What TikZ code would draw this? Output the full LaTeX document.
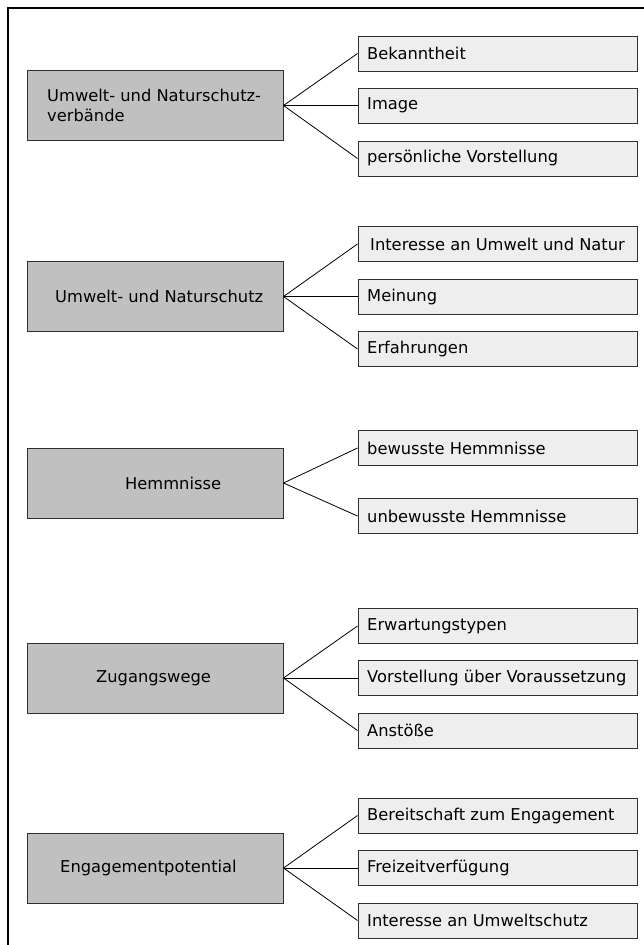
\documentclass[tikz,border=0pt]{standalone}
\usepackage{fontspec}
\setmainfont{DejaVu Sans}
\definecolor{mainfill}{HTML}{C0C0C0}
\definecolor{subfill}{HTML}{EEEEEE}
\definecolor{edge}{HTML}{303030}
\begin{document}
\begin{tikzpicture}[x=1pt,y=-1pt,
  mainbox/.style={draw=edge,line width=1pt,fill=mainfill,minimum width=256pt,minimum height=70pt,inner sep=0pt},
  subbox/.style={draw=edge,line width=1pt,fill=subfill,minimum width=279pt,minimum height=35pt,inner sep=0pt},
  lbl/.style={anchor=west,inner sep=0pt,font=\fontsize{16.3}{20}\selectfont},
  conn/.style={draw=black,line width=0.8pt}]
\useasboundingbox (0,0) rectangle (644,945);
\fill[white] (0,0) rectangle (644,945);
% frame
\draw[black,line width=1.2pt] (8,945) -- (8,8) -- (644,8);

% ---------- group 1
\node[mainbox] (m1) at (155,105.5) {};
\node[lbl,align=left] (t1) at (47,105.5) {Umwelt- und Naturschutz-\\verbände};
\node[subbox] (a1) at (497.5,53.5) {};
\node[subbox] (a2) at (497.5,105.5) {};
\node[subbox] (a3) at (497.5,158.5) {};
\node[lbl] (ta1) at (367,53.5) {Bekanntheit};
\node[lbl] (ta2) at (367,105.5) {Image};
\node[lbl] (ta3) at (367,158.5) {persönliche Vorstellung};
\draw[conn] (m1.east) -- (a1.west);
\draw[conn] (m1.east) -- (a2.west);
\draw[conn] (m1.east) -- (a3.west);

% ---------- group 2
\node[mainbox] (m2) at (155,296.5) {};
\node[lbl] (t2) at (55,296.5) {Umwelt- und Naturschutz};
\node[subbox] (b1) at (497.5,244) {};
\node[subbox] (b2) at (497.5,296.5) {};
\node[subbox] (b3) at (497.5,349) {};
\node[lbl] (tb1) at (370,244) {Interesse an Umwelt und Natur};
\node[lbl] (tb2) at (367,296.5) {Meinung};
\node[lbl] (tb3) at (367,349) {Erfahrungen};
\draw[conn] (m2.east) -- (b1.west);
\draw[conn] (m2.east) -- (b2.west);
\draw[conn] (m2.east) -- (b3.west);

% ---------- group 3
\node[mainbox] (m3) at (155,483) {};
\node[lbl] (t3) at (125,483) {Hemmnisse};
\node[subbox] (c1) at (497.5,448) {};
\node[subbox] (c2) at (497.5,516) {};
\node[lbl] (tc1) at (367,448) {bewusste Hemmnisse};
\node[lbl] (tc2) at (367,516) {unbewusste Hemmnisse};
\draw[conn] (m3.east) -- (c1.west);
\draw[conn] (m3.east) -- (c2.west);

% ---------- group 4
\node[mainbox] (m4) at (155,678) {};
\node[lbl] (t4) at (96,678) {Zugangswege};
\node[subbox] (d1) at (497.5,626) {};
\node[subbox] (d2) at (497.5,678) {};
\node[subbox] (d3) at (497.5,730.5) {};
\node[lbl] (td1) at (367,626) {Erwartungstypen};
\node[lbl] (td2) at (367,678) {Vorstellung über Voraussetzung};
\node[lbl] (td3) at (367,730.5) {Anstöße};
\draw[conn] (m4.east) -- (d1.west);
\draw[conn] (m4.east) -- (d2.west);
\draw[conn] (m4.east) -- (d3.west);

% ---------- group 5
\node[mainbox] (m5) at (155,868) {};
\node[lbl] (t5) at (60,868) {Engagementpotential};
\node[subbox] (e1) at (497.5,815.5) {};
\node[subbox] (e2) at (497.5,868) {};
\node[subbox] (e3) at (497.5,920.5) {};
\node[lbl] (te1) at (367,815.5) {Bereitschaft zum Engagement};
\node[lbl] (te2) at (367,868) {Freizeitverfügung};
\node[lbl] (te3) at (367,920.5) {Interesse an Umweltschutz};
\draw[conn] (m5.east) -- (e1.west);
\draw[conn] (m5.east) -- (e2.west);
\draw[conn] (m5.east) -- (e3.west);
\end{tikzpicture}
\end{document}
